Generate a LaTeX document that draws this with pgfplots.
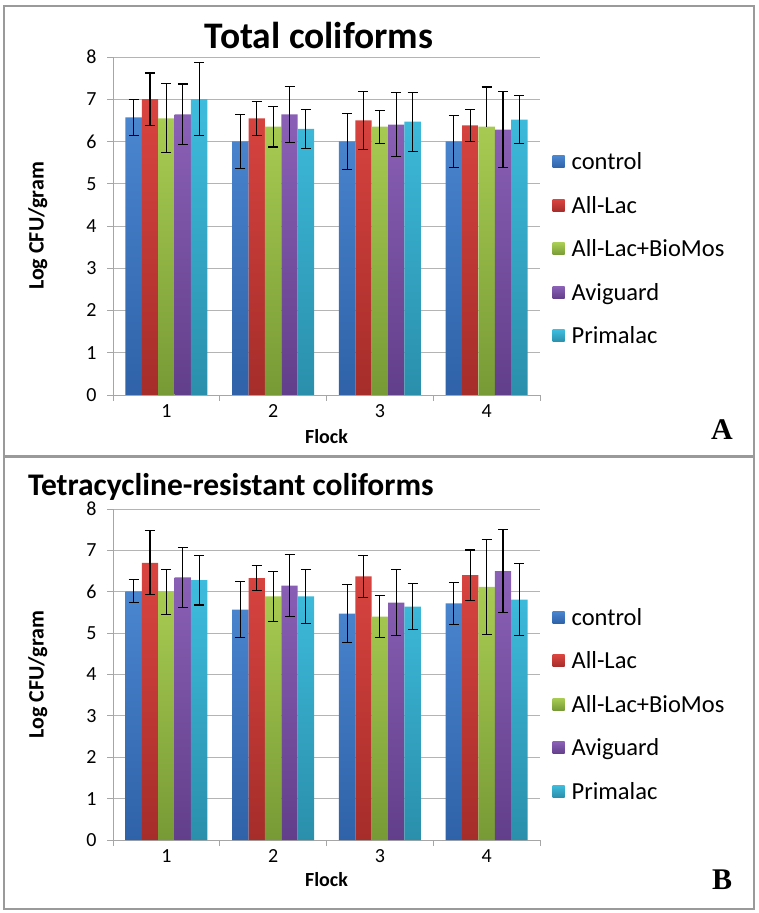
\documentclass[border=0pt]{standalone}
\usepackage{pgfplots}
\pgfplotsset{compat=1.18}
\usepackage{fontspec}
\setmainfont{Carlito}
\newfontfamily\timesfont{Liberation Serif}

\definecolor{cAt}{HTML}{4A86D0}\definecolor{cAb}{HTML}{2F62A8}
\definecolor{cBt}{HTML}{DA4440}\definecolor{cBb}{HTML}{A52D2A}
\definecolor{cCt}{HTML}{A8CC52}\definecolor{cCb}{HTML}{789A36}
\definecolor{cDt}{HTML}{8A60B6}\definecolor{cDb}{HTML}{623F8A}
\definecolor{cEt}{HTML}{3EBCDD}\definecolor{cEb}{HTML}{2A8FAB}
\definecolor{framec}{HTML}{9A9A9A}
\definecolor{axc}{HTML}{A6A6A6}
\definecolor{gridc}{HTML}{B4B4B4}

\pgfplotsset{
  geom/.style={scale only axis, width=427bp,
    xmin=0.5, xmax=4.5, ymin=0, ymax=8},
  panel/.style={
    geom,
    ybar=0pt, bar width=16.4bp,
    xtick={1,2,3,4},
    minor xtick={0.5,1.5,2.5,3.5,4.5},
    major x tick style={draw=none},
    minor tick length=6bp, major tick length=6bp,
    ytick={0,1,...,8},
    tick align=outside,
    axis x line*=bottom, axis y line*=left,
    axis line style={axc, line width=0.9bp},
    tick style={axc, line width=0.9bp},
    ymajorgrids, grid style={gridc, line width=0.9bp},
    /pgf/number format/assume math mode=true,
    ticklabel style={font=\fontsize{20bp}{23bp}\selectfont},
    yticklabel style={xshift=-7bp},
    xlabel={Flock}, ylabel={Log CFU/gram},
    xlabel style={font=\bfseries\fontsize{20bp}{23bp}\selectfont},
    ylabel style={font=\bfseries\fontsize{22bp}{25bp}\selectfont,
      at={(axis description cs:-0.176,0.5)}, anchor=center},
    legend style={anchor=west,
      draw=none, fill=none, font=\fontsize{24.5bp}{27bp}\selectfont,
      row sep=23bp, nodes={inner sep=1bp},
      /tikz/every odd column/.append style={column sep=6bp}},
    legend cell align=left,
    legend image code/.code={\path[##1,draw=none] (0bp,-6bp) rectangle (12bp,6bp);},
    clip=false,
  },
  myerr/.style={
    error bars/y explicit,
    error bars/error bar style={draw=black, line width=1.1bp},
    error bars/error mark options={draw=black, rotate=90, mark size=5bp, line width=1.1bp}},
  sbar/.style={draw=none, myerr, error bars/y dir=both},
}

\begin{document}
\begin{tikzpicture}[x=1bp, y=1bp]
\path[use as bounding box] (0,0) rectangle (759,913);
% frames
\draw[framec, line width=2bp] (4,457) rectangle (754,907);
\draw[framec, line width=2bp] (4,4) rectangle (754,456);
% titles and letters
\node[inner sep=0pt, font=\bfseries\fontsize{37.5bp}{40bp}\selectfont] at (319,878) {Total coliforms};
\node[inner sep=0pt, font=\bfseries\fontsize{31.5bp}{34bp}\selectfont] at (231,426) {Tetracycline-resistant coliforms};
\node[font=\timesfont\bfseries\fontsize{30bp}{34bp}\selectfont] at (722,483) {A};
\node[font=\timesfont\bfseries\fontsize{30bp}{34bp}\selectfont] at (722,33) {B};

% ---------- Panel A ----------
\begin{axis}[panel, height=338bp, at={(113bp,518bp)}, anchor=south west,
  xlabel style={at={(axis description cs:0.5,-0.124)}, anchor=center},
  legend style={at={(axis description cs:1.022,0.432)}}]
\addplot[sbar, top color=cAt, bottom color=cAb] coordinates {
 (1,6.57) +- (0,0.43) (2,6.00) +- (0,0.64) (3,6.00) +- (0,0.66) (4,6.00) +- (0,0.62)};
\addlegendentry{control}
\addplot[sbar, top color=cBt, bottom color=cBb] coordinates {
 (1,7.00) +- (0,0.62) (2,6.55) +- (0,0.40) (3,6.50) +- (0,0.69) (4,6.38) +- (0,0.38)};
\addlegendentry{All-Lac}
\addplot[draw=none, top color=cCt, bottom color=cCb] coordinates {
 (1,6.55) (2,6.35) (3,6.35) (4,6.35)};
\addlegendentry{All-Lac+BioMos}
\addplot[sbar, top color=cDt, bottom color=cDb] coordinates {
 (1,6.64) +- (0,0.72) (2,6.64) +- (0,0.67) (3,6.40) +- (0,0.76) (4,6.28) +- (0,0.90)};
\addlegendentry{Aviguard}
\addplot[sbar, top color=cEt, bottom color=cEb] coordinates {
 (1,7.00) +- (0,0.86) (2,6.30) +- (0,0.46) (3,6.47) +- (0,0.70) (4,6.52) +- (0,0.57)};
\addlegendentry{Primalac}
\end{axis}
% overlay axis: error bars of the middle series (All-Lac+BioMos), panel A
\begin{axis}[geom, height=338bp, at={(113bp,518bp)}, anchor=south west, hide axis, clip=false]
\addplot[draw=none, mark=none, myerr, error bars/y dir=both] coordinates {
 (1,6.55) +- (0,0.82) (2,6.35) +- (0,0.48) (3,6.35) +- (0,0.39)};
\addplot[draw=none, mark=none, myerr, error bars/y dir=plus] coordinates {
 (4,6.35) +- (0,0.94)};
\end{axis}

% ---------- Panel B ----------
\begin{axis}[panel, height=331bp, at={(113bp,73bp)}, anchor=south west,
  xlabel style={at={(axis description cs:0.5,-0.121)}, anchor=center},
  legend style={at={(axis description cs:1.022,0.41)}}]
\addplot[sbar, top color=cAt, bottom color=cAb] coordinates {
 (1,6.01) +- (0,0.28) (2,5.57) +- (0,0.67) (3,5.47) +- (0,0.70) (4,5.72) +- (0,0.51)};
\addlegendentry{control}
\addplot[sbar, top color=cBt, bottom color=cBb] coordinates {
 (1,6.70) +- (0,0.77) (2,6.33) +- (0,0.30) (3,6.37) +- (0,0.50) (4,6.40) +- (0,0.61)};
\addlegendentry{All-Lac}
\addplot[sbar, top color=cCt, bottom color=cCb] coordinates {
 (1,6.00) +- (0,0.54) (2,5.89) +- (0,0.61) (3,5.40) +- (0,0.51) (4,6.12) +- (0,1.15)};
\addlegendentry{All-Lac+BioMos}
\addplot[sbar, top color=cDt, bottom color=cDb] coordinates {
 (1,6.35) +- (0,0.72) (2,6.15) +- (0,0.75) (3,5.74) +- (0,0.80) (4,6.50) +- (0,1.00)};
\addlegendentry{Aviguard}
\addplot[sbar, top color=cEt, bottom color=cEb] coordinates {
 (1,6.28) +- (0,0.60) (2,5.89) +- (0,0.65) (3,5.64) +- (0,0.56) (4,5.81) +- (0,0.87)};
\addlegendentry{Primalac}
\end{axis}
\end{tikzpicture}
\end{document}
